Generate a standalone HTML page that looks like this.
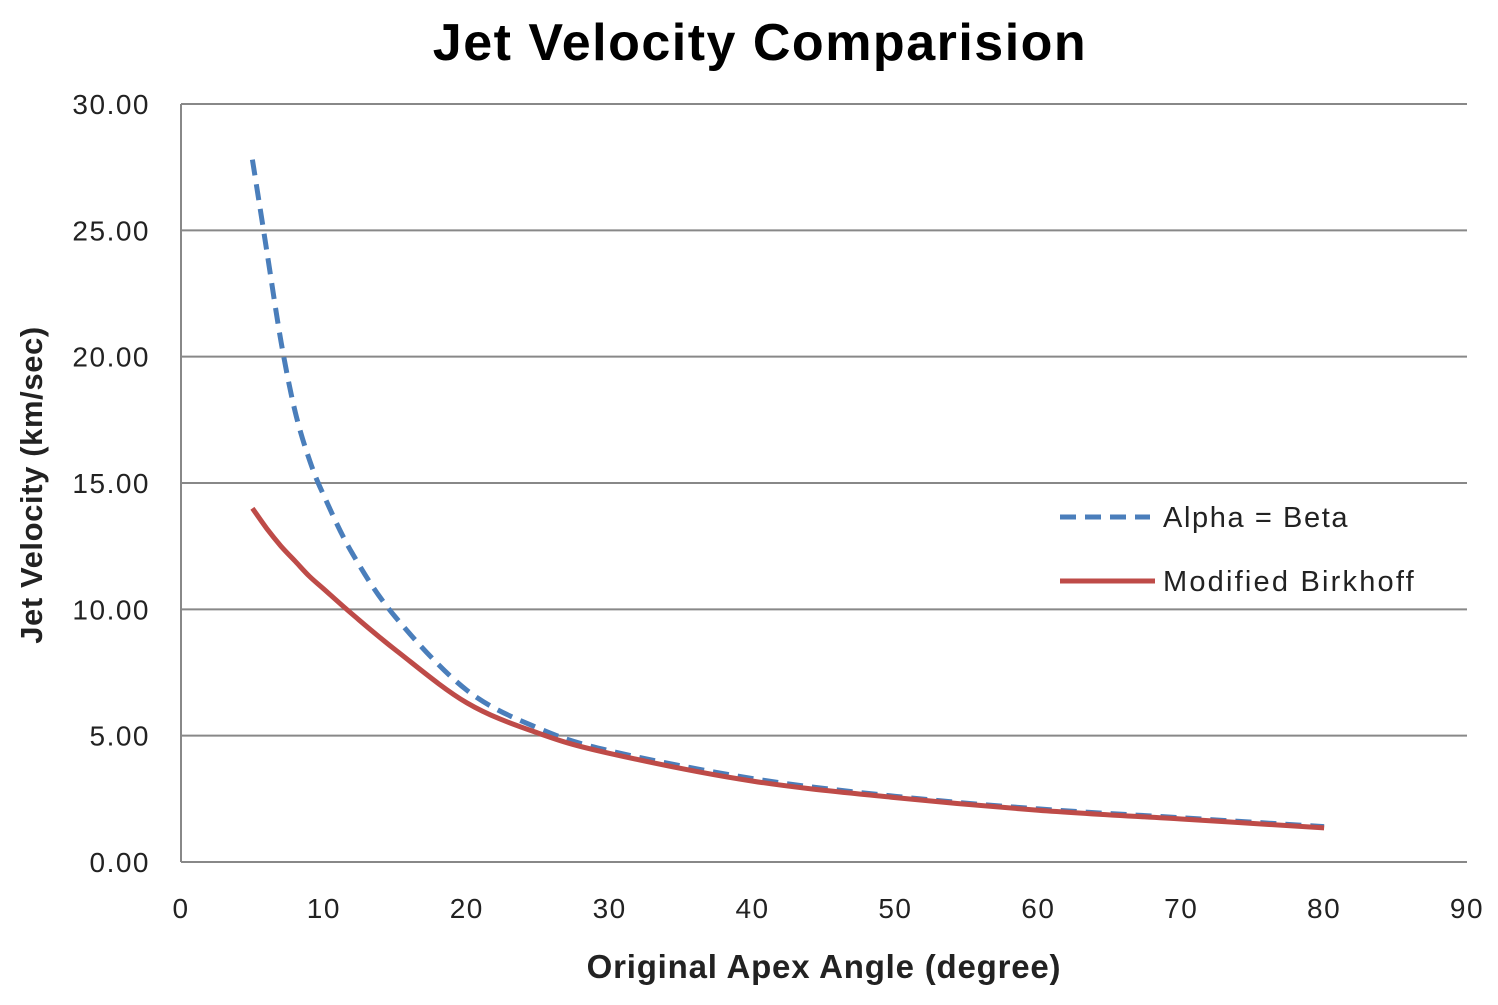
<!DOCTYPE html>
<html><head><meta charset="utf-8"><style>
body{margin:0;background:#fff;font-family:"Liberation Sans",sans-serif}
</style></head><body>
<svg width="1498" height="1000" xmlns="http://www.w3.org/2000/svg" font-family="Liberation Sans, sans-serif">
<text x="760" y="60" text-anchor="middle" font-size="52" font-weight="bold" letter-spacing="1.5">Jet Velocity Comparision</text>
<g id="grid"></g><g id="series"></g>
<text x="824" y="978" text-anchor="middle" font-size="33" font-weight="bold" letter-spacing="0.8" fill="#222">Original Apex Angle (degree)</text>
<text transform="translate(42,485) rotate(-90)" text-anchor="middle" font-size="31" font-weight="bold" letter-spacing="0.6" fill="#222">Jet Velocity (km/sec)</text>
<g>
<line x1="1060" y1="517" x2="1150" y2="517" stroke="#4a7ebb" stroke-width="5" stroke-dasharray="16,9"/>
<text x="1163" y="527" font-size="29" letter-spacing="1.6" fill="#222">Alpha = Beta</text>
<line x1="1060" y1="581" x2="1155" y2="581" stroke="#be4b48" stroke-width="5"/>
<text x="1163" y="591" font-size="29" letter-spacing="2.2" fill="#222">Modified Birkhoff</text>
</g>
</svg>
<script>
const angles=[5,6,7,8,9,10,12,15,20,25,30,40,50,60,70,80];
const alphaBeta=[27.8,24.2,20.6,17.8,15.9,14.5,12.2,9.7,6.8,5.3,4.4,3.3,2.6,2.1,1.75,1.4];
const birkhoff=[14.0,13.2,12.5,11.9,11.3,10.8,9.8,8.4,6.3,5.1,4.3,3.2,2.55,2.05,1.7,1.35];
const yTicks=[0,5,10,15,20,25,30];
const xTicks=[0,10,20,30,40,50,60,70,80,90];
const NS="http://www.w3.org/2000/svg";
const X=v=>181+v*(1467-181)/90, Y=v=>862-v*(862-104)/30;
const grid=document.getElementById('grid'), ser=document.getElementById('series');
function mk(t,a,p){const e=document.createElementNS(NS,t);for(const k in a)e.setAttribute(k,a[k]);p.appendChild(e);return e;}
yTicks.forEach(v=>{
 const l=mk('line',{x1:181,x2:1467,y1:Y(v),y2:Y(v),stroke:'#888','stroke-width':2},grid);
 
 
 const t=mk('text',{x:150,y:Y(v)+10,'text-anchor':'end','font-size':28,'letter-spacing':1.5,fill:'#222'},grid);t.textContent=v.toFixed(2);
 
 
});
const ax=mk('line',{x1:181,x2:181,y1:104,y2:862,stroke:'#888','stroke-width':2},grid);


xTicks.forEach(v=>{
 const t=mk('text',{x:X(v),y:918,'text-anchor':'middle','font-size':28,'letter-spacing':1.5,fill:'#222'},grid);t.textContent=v;
 
 
});
function path(vals,attrs,name){
 const pts=angles.map((a,i)=>[X(a),Y(vals[i])]);
 let d='M'+pts[0][0].toFixed(1)+','+pts[0][1].toFixed(1);
 for(let i=0;i<pts.length-1;i++){
  const p0=pts[Math.max(0,i-1)],p1=pts[i],p2=pts[i+1],p3=pts[Math.min(pts.length-1,i+2)];
  const c1=[p1[0]+(p2[0]-p0[0])/6,p1[1]+(p2[1]-p0[1])/6],c2=[p2[0]-(p3[0]-p1[0])/6,p2[1]-(p3[1]-p1[1])/6];
  d+=' C'+c1.map(v=>v.toFixed(1)).join(',')+' '+c2.map(v=>v.toFixed(1)).join(',')+' '+p2.map(v=>v.toFixed(1)).join(',');
 }
 const p=mk('path',Object.assign({d:d,fill:'none','stroke-width':5,'stroke-linejoin':'round'},attrs),ser);
 
 
}
path(alphaBeta,{stroke:'#4a7ebb','stroke-dasharray':'16,9'},'series-alpha-beta');
path(birkhoff,{stroke:'#be4b48'},'series-modified-birkhoff');
</script>
</body></html>
